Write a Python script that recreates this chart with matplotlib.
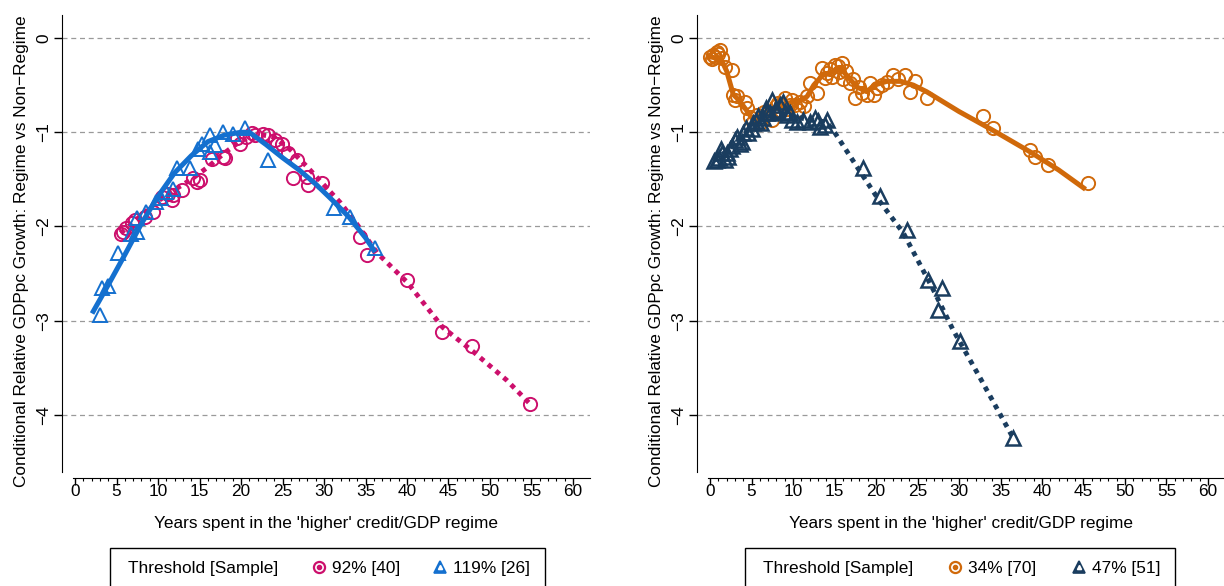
import matplotlib
matplotlib.use('Agg')
import matplotlib.pyplot as plt
from matplotlib.lines import Line2D
from matplotlib.patches import Rectangle

plt.rcParams['font.family'] = ['Liberation Sans', 'DejaVu Sans']

# --------------------------
# DATA
# --------------------------

# left panel: 92% threshold [40]
x92 = [5.5, 5.8, 6.2, 6.9, 7.2, 8.4, 9.4, 10.5, 11.2, 11.7,
       11.8, 12.9, 14.2, 14.7, 15.1, 16.5, 17.8, 18.1, 19.5, 19.9,
       20.6, 21.3, 21.7, 22.6, 23.3, 24.1, 24.3, 24.9, 25.7, 26.3,
       26.7, 28.0, 28.1, 29.8, 34.3, 35.2, 40.0, 44.2, 47.8, 54.8]
y92 = [-2.08, -2.06, -2.02, -1.96, -1.93, -1.90, -1.85, -1.69, -1.66, -1.72,
       -1.67, -1.61, -1.49, -1.53, -1.51, -1.28, -1.26, -1.27, -1.06, -1.12,
       -1.05, -1.01, -1.03, -1.02, -1.03, -1.08, -1.12, -1.13, -1.22, -1.49,
       -1.29, -1.47, -1.56, -1.54, -2.11, -2.30, -2.57, -3.12, -3.27, -3.88]
fit92_x = [5.5, 8, 10, 12, 14, 16, 18, 20, 22, 24, 26, 28, 30, 32, 34, 36.4, 40, 44.3, 48, 52, 54.8]
fit92_y = [-2.07, -1.88, -1.73, -1.61, -1.50, -1.37, -1.22, -1.09, -1.02, -1.05,
           -1.19, -1.37, -1.56, -1.75, -1.98, -2.28, -2.59, -3.07, -3.33, -3.63, -3.88]

# left panel: 119% threshold [26]
x119 = [3.0, 3.2, 4.0, 5.2, 6.8, 7.5, 7.5, 8.6, 9.8, 10.4,
        11.0, 11.8, 12.3, 13.9, 14.8, 15.3, 16.3, 16.3, 16.9, 17.8,
        19.0, 20.5, 23.3, 31.2, 33.1, 36.1]
y119 = [-2.94, -2.65, -2.63, -2.28, -2.08, -2.06, -1.91, -1.85, -1.74, -1.70,
        -1.63, -1.60, -1.38, -1.38, -1.18, -1.12, -1.03, -1.21, -1.14, -1.00,
        -1.02, -0.96, -1.29, -1.80, -1.90, -2.23]
fit119_x = [2.2, 4, 6, 8, 10, 12, 14, 16, 18, 20, 21, 23, 25, 27, 29, 31, 33, 35, 36]
fit119_y = [-2.90, -2.62, -2.30, -1.97, -1.68, -1.43, -1.25, -1.10, -1.03, -1.00,
            -1.00, -1.13, -1.27, -1.40, -1.55, -1.72, -1.90, -2.12, -2.25]

# right panel: 34% threshold [70]
x34 = [0.0, 0.2, 0.4, 0.6, 0.8, 1.0, 1.2, 1.5, 1.8, 2.7,
       2.8, 3.0, 3.3, 4.2, 4.5, 4.8, 5.2, 5.6, 6.0, 6.5,
       7.0, 7.5, 7.9, 8.2, 8.6, 9.0, 9.3, 9.6, 9.9, 10.2,
       10.6, 10.8, 11.3, 11.7, 12.0, 12.9, 13.5, 13.9, 14.1, 14.4,
       14.7, 15.1, 15.4, 15.6, 15.9, 16.0, 16.4, 16.9, 17.2, 17.5,
       18.0, 18.3, 18.9, 19.3, 19.7, 20.1, 20.7, 21.3, 22.1, 22.6,
       23.5, 24.1, 24.7, 26.1, 32.9, 34.1, 38.6, 39.2, 40.7, 45.5]
y34 = [-0.20, -0.22, -0.18, -0.20, -0.15, -0.17, -0.13, -0.21, -0.31, -0.34,
       -0.60, -0.66, -0.62, -0.68, -0.74, -0.84, -0.89, -0.82, -0.90, -0.78,
       -0.80, -0.87, -0.72, -0.69, -0.70, -0.64, -0.75, -0.71, -0.66, -0.71,
       -0.76, -0.68, -0.72, -0.62, -0.48, -0.58, -0.32, -0.42, -0.37, -0.33,
       -0.41, -0.29, -0.30, -0.36, -0.27, -0.43, -0.35, -0.48, -0.44, -0.64,
       -0.52, -0.58, -0.61, -0.48, -0.60, -0.53, -0.50, -0.47, -0.39, -0.44,
       -0.39, -0.57, -0.46, -0.64, -0.83, -0.95, -1.19, -1.26, -1.35, -1.54]
fit34_x = [0, 1.3, 2.0, 2.8, 3.5, 4.5, 5.2, 6.0, 7.0, 8.0, 9.0, 10.0, 11.0, 11.7, 12.5,
           13.5, 14.5, 15.7, 16.5, 17.7, 18.9, 19.8, 21.3, 23.0, 24.5, 26.1, 30.0,
           34.1, 38.6, 42.0, 45.0]
fit34_y = [-0.20, -0.22, -0.35, -0.60, -0.66, -0.78, -0.87, -0.85, -0.77, -0.74,
           -0.70, -0.68, -0.66, -0.62, -0.50, -0.40, -0.37, -0.32, -0.40, -0.52,
           -0.57, -0.50, -0.46, -0.46, -0.50, -0.57, -0.78, -0.98, -1.21, -1.40, -1.59]

# right panel: 47% threshold [51]
x47 = [0.5, 0.8, 1.1, 1.3, 1.5, 1.8, 2.0, 2.2, 2.4, 2.7,
       3.0, 3.3, 3.6, 3.9, 4.0, 4.3, 4.6, 5.0, 5.2, 5.5,
       5.8, 6.1, 6.4, 6.7, 6.9, 7.2, 7.5, 7.8, 8.1, 8.4,
       8.8, 9.0, 9.3, 9.6, 9.9, 10.5, 11.2, 12.0, 12.7, 13.0,
       13.3, 13.8, 14.1, 18.4, 20.5, 23.7, 26.3, 27.5, 27.9, 30.1, 36.5]
y47 = [-1.30, -1.29, -1.27, -1.18, -1.22, -1.29, -1.22, -1.26, -1.18, -1.15,
       -1.08, -1.05, -1.12, -1.10, -1.01, -0.95, -1.01, -0.97, -0.90, -0.88,
       -0.83, -0.90, -0.85, -0.74, -0.80, -0.80, -0.66, -0.76, -0.78, -0.71,
       -0.68, -0.78, -0.82, -0.80, -0.87, -0.89, -0.87, -0.89, -0.85, -0.88,
       -0.94, -0.92, -0.87, -1.38, -1.68, -2.04, -2.57, -2.89, -2.65, -3.22, -4.24]
fit47_x = [0.5, 2, 3.5, 5, 6.5, 8, 10, 12, 14, 15, 18.1, 20.5, 23.3, 26.9, 29.3, 32.5, 36.5]
fit47_y = [-1.30, -1.20, -1.07, -0.95, -0.85, -0.80, -0.83, -0.87, -0.89, -1.00,
           -1.42, -1.74, -2.07, -2.67, -3.10, -3.60, -4.24]

pink = '#cc0f6c'
blue = '#1470cf'
orange = '#d0690a'
navy = '#1a3d5f'

left_labels = ['92% [40]', '119% [26]']
right_labels = ['34% [70]', '47% [51]']

xlab = "Years spent in the 'higher' credit/GDP regime"
ylab = 'Conditional Relative GDPpc Growth: Regime vs Non\u2212Regime'
FS = 12.4
W, H = 1224, 586


def style(ax):
    ax.set_xlim(-1.57, 62.05)
    ax.set_ylim(-4.605, 0.244)
    ax.spines['top'].set_visible(False)
    ax.spines['right'].set_visible(False)
    ax.spines['bottom'].set_position(('outward', 4))
    ax.spines['bottom'].set_bounds(-0.2, 62.05)
    ax.set_xticks(range(0, 61, 5))
    ax.set_xticks(range(0, 61), minor=True)
    ax.set_yticks([0, -1, -2, -3, -4])
    ax.tick_params(axis='x', which='major', length=5, width=1, labelsize=FS, pad=0)
    ax.tick_params(axis='x', which='minor', length=2.5, width=0.8)
    ax.tick_params(axis='y', length=6, width=1, labelsize=FS, pad=2)
    plt.setp(ax.get_yticklabels(), rotation=90, va='center')
    ax.grid(axis='y', linestyle=(0, (4, 3)), color='#9a9a9a', lw=0.9)
    ax.set_axisbelow(True)
    ax.set_xlabel(xlab, fontsize=FS, labelpad=12)
    ax.set_ylabel(ylab, fontsize=FS)
    ax.yaxis.set_label_coords(-0.0625, 0.4836)


def legend(c1, c2, labels, box_x0, box_x1):
    # frame of the legend box
    fig.add_artist(Rectangle((box_x0 / W, -4 / H), (box_x1 - box_x0) / W, 42 / H,
                             transform=fig.transFigure, fill=False,
                             edgecolor='black', lw=1.0))
    blank = Line2D([], [], ls='none')
    h1 = (Line2D([], [], ls='none', marker='o', mfc='none', mec=c1, ms=8, mew=1.6),
          Line2D([], [], ls='none', marker='o', mfc=c1, mec=c1, ms=3))
    h2 = (Line2D([], [], ls='none', marker='^', mfc=c2, mec=c2, ms=8.5, mew=1.2),
          Line2D([], [], ls='none', marker='^', mfc='white', mec='white', ms=3))
    x0 = box_x0 + 1
    x1 = box_x1 - 15
    fig.legend([blank, h1, h2], ['Threshold [Sample]'] + labels,
               loc='center', ncol=3, mode='expand',
               bbox_to_anchor=(x0 / W, (H - 580) / H, (x1 - x0) / W, 24 / H),
               borderaxespad=0, frameon=False, fontsize=FS,
               handlelength=0.5, handletextpad=0.5, borderpad=0)


fig = plt.figure(figsize=(12.24, 5.86), dpi=100)

ax1 = fig.add_axes([62 / W, 114 / H, 528 / W, 457 / H])
ax1.plot(x92, y92, ls='none', marker='o', mfc='none', mec=pink, ms=9.5, mew=1.4, zorder=3)
ax1.plot(fit92_x, fit92_y, color=pink, lw=3.5, ls=(0, (1, 1.1)), zorder=4)
ax1.plot(x119, y119, ls='none', marker='^', mfc='none', mec=blue, ms=9.5, mew=1.4, zorder=5)
ax1.plot(fit119_x, fit119_y, color=blue, lw=3.6, zorder=6)
style(ax1)
legend(pink, blue, left_labels, 110, 545)

ax2 = fig.add_axes([697 / W, 114 / H, 528 / W, 457 / H])
ax2.plot(x34, y34, ls='none', marker='o', mfc='none', mec=orange, ms=9.5, mew=1.4, zorder=3)
ax2.plot(fit34_x, fit34_y, color=orange, lw=3.6, zorder=4)
ax2.plot(x47, y47, ls='none', marker='^', mfc='none', mec=navy, ms=10, mew=1.8, zorder=5)
ax2.plot(fit47_x, fit47_y, color=navy, lw=3.5, ls=(0, (1, 1.1)), zorder=6)
style(ax2)
legend(orange, navy, right_labels, 745, 1175)

fig.savefig('out.png', dpi=100)
